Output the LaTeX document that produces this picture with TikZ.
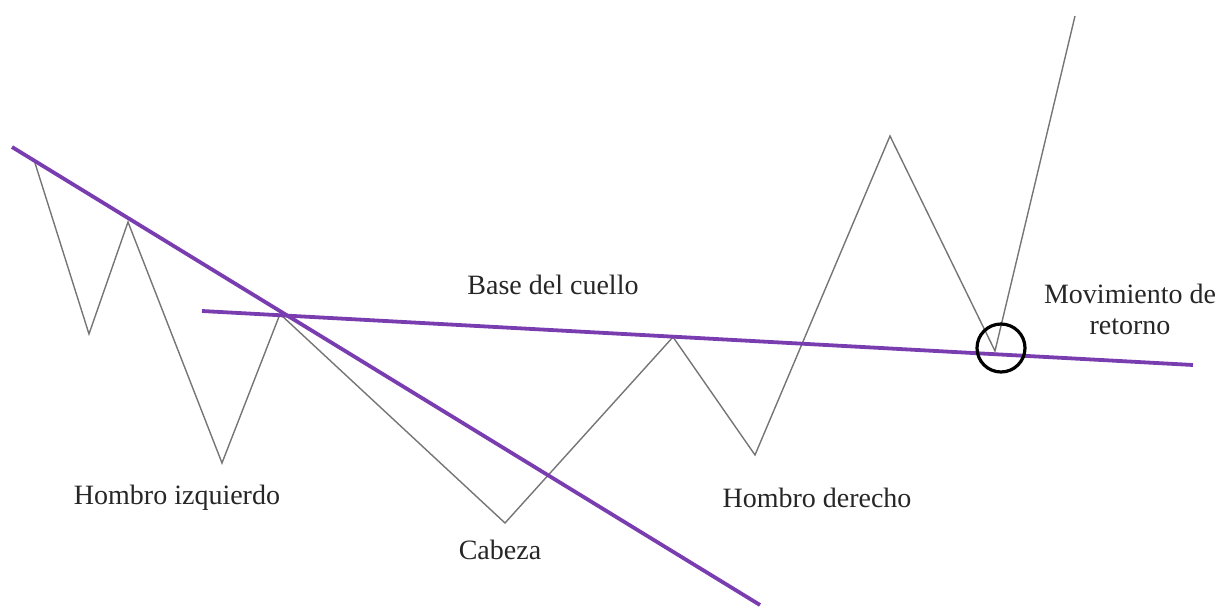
\documentclass[tikz,border=0pt]{standalone}
\usepackage{fontspec}
\setmainfont{Liberation Serif}
\usetikzlibrary{positioning}

\definecolor{trendpurple}{HTML}{7A3DB0}
\definecolor{pricegray}{HTML}{757575}

\begin{document}
\begin{tikzpicture}[
    x=1pt,y=-1pt,
    price/.style={pricegray,line width=1.4pt,line join=miter},
    trend/.style={trendpurple,line width=3.8pt},
    marker/.style={draw=black,line width=3.2pt,circle,minimum size=48pt,inner sep=0pt},
    label/.style={font=\fontsize{28}{31}\selectfont,align=center,text=black!85}
]
\useasboundingbox (0,0) rectangle (1216,610);

% price path
\coordinate (p0) at (35,163);
\coordinate (p1) at (89,334);
\coordinate (p2) at (128,222);
\coordinate (p3) at (222,463);
\coordinate (p4) at (280,314);
\coordinate (p5) at (505,523);
\coordinate (p6) at (673,337);
\coordinate (p7) at (755,455);
\coordinate (p8) at (890,136);
\coordinate (p9) at (995,351);
\coordinate (p10) at (1075,16);

% trend lines
\coordinate (tl1) at (12,147);
\coordinate (tl2) at (760,605);
\coordinate (nk1) at (202,311);
\coordinate (nk2) at (1193,365);

\draw[price] (p0) -- (p1) -- (p2) -- (p3) -- (p4) -- (p5) -- (p6) -- (p7) -- (p8) -- (p9) -- (p10);
\draw[trend] (tl1) -- (tl2);
\draw[trend] (nk1) -- (nk2);

\node[marker] (ret) at (1001,348) {};

\node[label] (neck) at (553,285) {Base del cuello};
\node[label] (move) at (1130,309) {Movimiento de\\retorno};
\node[label] (lsh) at (177,498) {Hombro izquierdo};
\node[label] (head) at (500,550) {Cabeza};
\node[label] (rsh) at (817,498) {Hombro derecho};
\end{tikzpicture}
\end{document}
